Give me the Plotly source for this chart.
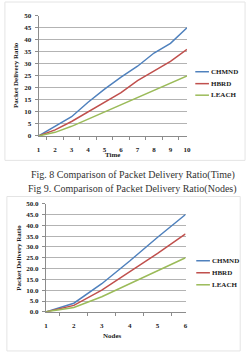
import plotly.graph_objects as go

W, H = 252, 353

# ---- data ----
time_cats = ["1", "2", "3", "4", "5", "6", "7", "8", "9", "10"]
time_chmnd = [0, 4, 8, 14, 19.5, 24.5, 29, 34.5, 38.5, 45]
time_hbrd = [0, 2.5, 6, 10, 14, 18, 23, 27, 31, 36]
time_leach = [0, 1.5, 4, 7, 10, 13, 16, 19, 22, 25]

node_cats = ["1", "2", "3", "4", "5", "6"]
node_chmnd = [0, 4, 13, 23.5, 34.5, 45]
node_hbrd = [0, 3, 10, 18.5, 27, 36]
node_leach = [0, 2, 7, 13, 19, 25]

series_names = ["CHMND", "HBRD", "LEACH"]
colors = ["#4F81BD", "#C0504D", "#9BBB59"]

caption_top = "Fig. 8 Comparison of Packet Delivery Ratio(Time)"
caption_bottom = "Fig 9. Comparison of Packet Delivery Ratio(Nodes)"

SERIF = "Liberation Serif"
GRID = "#b3b3b3"
AXIS = "#8c8c8c"

def px_x(p):
    return p / W

def px_y(p):
    return 1 - p / H

fig = go.Figure()

for vals, name, c in zip([time_chmnd, time_hbrd, time_leach], series_names, colors):
    fig.add_trace(go.Scatter(x=time_cats, y=vals, mode="lines", name=name,
                             line=dict(color=c, width=1.5), xaxis="x", yaxis="y",
                             showlegend=False))
for vals, name, c in zip([node_chmnd, node_hbrd, node_leach], series_names, colors):
    fig.add_trace(go.Scatter(x=node_cats, y=vals, mode="lines", name=name,
                             line=dict(color=c, width=1.5), xaxis="x2", yaxis="y2",
                             showlegend=False))

tickfont = dict(family=SERIF, size=7, color="#222", weight="bold")

xcommon = dict(type="category", tickson="boundaries", ticks="outside", ticklen=3,
               tickcolor=AXIS, showline=True, linecolor=AXIS, linewidth=1,
               showgrid=False, tickfont=tickfont, ticklabelstandoff=7, fixedrange=True)
ycommon = dict(showline=True, linecolor=AXIS, linewidth=1, ticks="outside", ticklen=3,
               tickcolor=AXIS, showgrid=True, gridcolor=GRID, gridwidth=1,
               tickfont=tickfont, zeroline=False, range=[0, 50], dtick=5,
               ticklabelstandoff=2, fixedrange=True)

fig.update_layout(
    width=W, height=H, margin=dict(l=0, r=0, t=0, b=0),
    paper_bgcolor="white", plot_bgcolor="white", showlegend=False,
    xaxis=dict(domain=[px_x(37.5), px_x(189.5)], anchor="y", **xcommon),
    yaxis=dict(domain=[px_y(135), px_y(12)], anchor="x", **ycommon),
    xaxis2=dict(domain=[px_x(45), px_x(188)], anchor="y2", **xcommon),
    yaxis2=dict(domain=[px_y(315), px_y(204.3)], anchor="x2", tickformat=".1f", **ycommon),
)

annotations = []
shapes = []

# axis titles
bold7 = dict(family=SERIF, size=7, color="#222")
annotations.append(dict(text="<b>Packet Delivery Ratio</b>", x=px_x(15), y=px_y(73),
                        xref="paper", yref="paper", textangle=-90, showarrow=False,
                        font=bold7, xanchor="center", yanchor="middle"))
annotations.append(dict(text="<b>Time</b>", x=px_x(113), y=px_y(154), xref="paper",
                        yref="paper", showarrow=False, font=bold7,
                        xanchor="center", yanchor="middle"))
annotations.append(dict(text="<b>Packet Delivery Ratio</b>", x=px_x(18), y=px_y(260),
                        xref="paper", yref="paper", textangle=-90, showarrow=False,
                        font=bold7, xanchor="center", yanchor="middle"))
annotations.append(dict(text="<b>Nodes</b>", x=px_x(113), y=px_y(340), xref="paper",
                        yref="paper", showarrow=False, font=bold7,
                        xanchor="center", yanchor="middle"))

# legends (manual, Excel style)
for ys, x0 in [([69.3, 81.5, 93.3], 198), ([262.7, 275, 287.3], 199)]:
    for name, c, yy in zip(series_names, colors, ys):
        shapes.append(dict(type="line", xref="paper", yref="paper",
                           x0=px_x(x0), x1=px_x(x0 + 14), y0=px_y(yy), y1=px_y(yy),
                           line=dict(color=c, width=1.5)))
        annotations.append(dict(text="<b>%s</b>" % name, x=px_x(x0 + 14.5), y=px_y(yy),
                                xref="paper", yref="paper", showarrow=False, font=bold7,
                                xanchor="left", yanchor="middle"))

# captions
capfont = dict(family=SERIF, size=10, color="#333")
annotations.append(dict(text=caption_top, x=px_x(134), y=px_y(175), xref="paper",
                        yref="paper", showarrow=False, font=capfont,
                        xanchor="center", yanchor="middle"))
annotations.append(dict(text=caption_bottom, x=px_x(134), y=px_y(189), xref="paper",
                        yref="paper", showarrow=False, font=capfont,
                        xanchor="center", yanchor="middle"))

# faint chart frames
shapes.append(dict(type="rect", xref="paper", yref="paper", x0=px_x(3), x1=px_x(249),
                   y0=px_y(160), y1=px_y(-2), line=dict(color="#e4e4e4", width=1)))
shapes.append(dict(type="rect", xref="paper", yref="paper", x0=px_x(5), x1=px_x(244),
                   y0=px_y(355), y1=px_y(197), line=dict(color="#e4e4e4", width=1)))

fig.update_layout(annotations=annotations, shapes=shapes)

fig.write_html("out.html")
